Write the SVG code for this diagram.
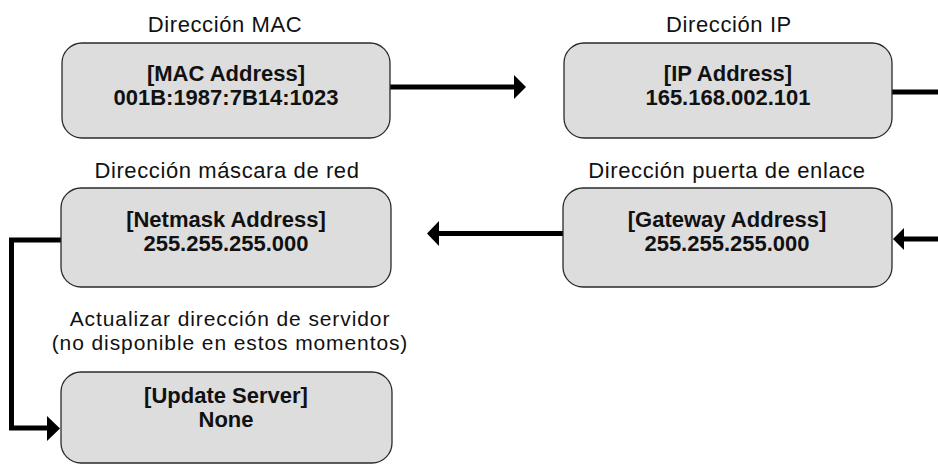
<svg xmlns="http://www.w3.org/2000/svg" width="938" height="465" viewBox="0 0 938 465">
<style>
.box{fill:#dddddd;stroke:#2a2a2a;stroke-width:1.3}
.lbl{font-family:"Liberation Sans",Arial,Helvetica,sans-serif;font-size:22px;fill:#111;text-anchor:middle;letter-spacing:0.6px}
.lbl2{font-family:"Liberation Sans",Arial,Helvetica,sans-serif;font-size:21px;fill:#111;text-anchor:middle;letter-spacing:0.9px}
.val{font-family:"Liberation Sans",Arial,Helvetica,sans-serif;font-size:22px;font-weight:bold;fill:#111;text-anchor:middle}
.wire{fill:none;stroke:#000;stroke-width:5;stroke-linejoin:miter;stroke-linecap:butt}
.head{fill:#000}
</style>
<rect width="938" height="465" fill="#fff"/>
<g id="connectors">
<path class="wire" d="M390 87 H516"/>
<polygon class="head" points="514,75 526,87 514,99"/>
<path class="wire" d="M892 92 H938"/>
<path class="wire" d="M938 239 H902"/>
<polygon class="head" points="904,228 893,239 904,250"/>
<path class="wire" d="M563 233.5 H437"/>
<polygon class="head" points="439,221 427,233.5 439,246"/>
<path class="wire" d="M61 240 H11.5 V428 H49"/>
<polygon class="head" points="47,416 60,428.5 47,441"/>
</g>
<g id="node-mac">
<text class="lbl" x="225" y="32">Dirección MAC</text>
<rect class="box" x="62" y="43" width="328" height="95" rx="20"/>
<text class="val" x="226" y="81">[MAC Address]</text>
<text class="val" x="226" y="105">001B:1987:7B14:1023</text>
</g>
<g id="node-ip">
<text class="lbl" x="729" y="32">Dirección IP</text>
<rect class="box" x="564" y="43" width="328" height="95" rx="20"/>
<text class="val" x="728" y="81">[IP Address]</text>
<text class="val" x="728" y="105">165.168.002.101</text>
</g>
<g id="node-netmask">
<text class="lbl" x="227" y="178">Dirección máscara de red</text>
<rect class="box" x="61" y="188" width="330" height="99" rx="20"/>
<text class="val" x="226" y="227">[Netmask Address]</text>
<text class="val" x="226" y="251">255.255.255.000</text>
</g>
<g id="node-gateway">
<text class="lbl" x="727" y="178">Dirección puerta de enlace</text>
<rect class="box" x="563" y="188" width="329" height="99" rx="20"/>
<text class="val" x="727" y="227">[Gateway Address]</text>
<text class="val" x="727" y="251">255.255.255.000</text>
</g>
<g id="node-update">
<text class="lbl2" x="230" y="326">Actualizar dirección de servidor</text>
<text class="lbl2" x="230" y="350">(no disponible en estos momentos)</text>
<rect class="box" x="61" y="372" width="331" height="91" rx="20"/>
<text class="val" x="226" y="403">[Update Server]</text>
<text class="val" x="226" y="427">None</text>
</g>
</svg>
